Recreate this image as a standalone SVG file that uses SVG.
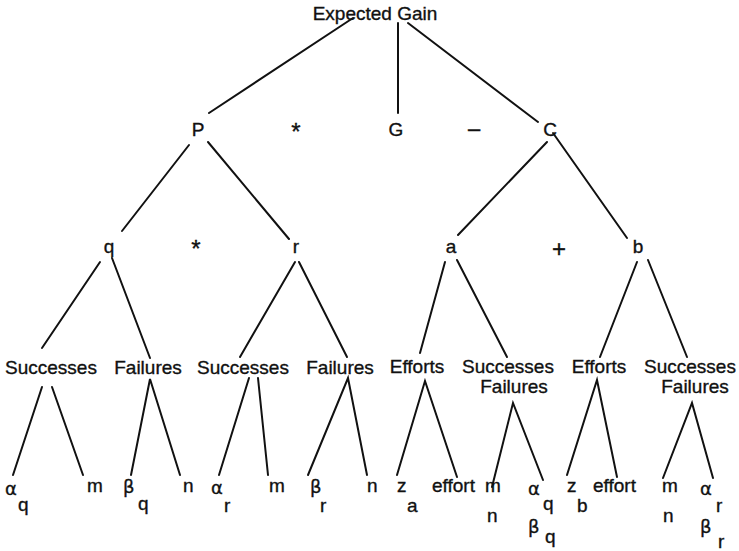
<svg xmlns="http://www.w3.org/2000/svg" width="739" height="551" viewBox="0 0 739 551">
  <style>
    text { font-family: "Liberation Sans", Arial, sans-serif; font-size: 19px; fill: #111; stroke: #111; stroke-width: 0.35; }
    .c { text-anchor: middle; }
    .sym { font-family: "DejaVu Sans", "Liberation Sans", sans-serif; font-size: 18px; }
    .op { font-size: 24px; }
    .edge { stroke: #111; stroke-width: 2; fill: none; stroke-linecap: round; }
  </style>
  <rect width="739" height="551" fill="#fff"/>

  <!-- connectors -->
  <g id="connectors" class="edge">
    <line x1="353" y1="18" x2="209" y2="113"/>
    <line x1="398" y1="23" x2="398" y2="113"/>
    <line x1="408" y1="23" x2="538" y2="122"/>

    <line x1="189" y1="145" x2="122" y2="231"/>
    <line x1="208" y1="142" x2="289" y2="239"/>
    <line x1="547" y1="142" x2="458" y2="235"/>
    <line x1="553" y1="133" x2="627" y2="238"/>

    <line x1="100" y1="262" x2="42" y2="348"/>
    <line x1="112" y1="258" x2="150" y2="358"/>
    <line x1="295" y1="262" x2="240" y2="357"/>
    <line x1="299" y1="262" x2="347" y2="357"/>
    <line x1="445" y1="262" x2="420" y2="353"/>
    <line x1="457" y1="260" x2="507" y2="357"/>
    <line x1="637" y1="262" x2="600" y2="357"/>
    <line x1="648" y1="260" x2="687" y2="357"/>

    <line x1="42" y1="387" x2="13" y2="475"/>
    <line x1="52" y1="387" x2="83" y2="475"/>
    <polyline points="131,475 150,379 180,475"/>
    <line x1="249" y1="378" x2="219" y2="475"/>
    <line x1="258" y1="378" x2="268" y2="475"/>
    <polyline points="308,475 348,378 367,475"/>
    <polyline points="397,475 425,381 457,477"/>
    <polyline points="492,487 513,403 543,480"/>
    <polyline points="567,475 597,380 617,477"/>
    <polyline points="663,478 692,403 713,478"/>
  </g>

  <!-- root -->
  <g id="expected-gain"><text class="c" x="375" y="20">Expected Gain</text></g>

  <!-- level 1 -->
  <g id="P"><text class="c" x="198" y="136">P</text></g>
  <g id="G"><text class="c" x="396" y="136">G</text></g>
  <g id="C"><text class="c" x="550" y="136">C</text></g>

  <!-- level 2 -->
  <g id="q"><text class="c" x="109" y="253">q</text></g>
  <g id="r"><text class="c" x="296" y="253">r</text></g>
  <g id="a"><text class="c" x="451" y="253">a</text></g>
  <g id="b"><text class="c" x="638" y="253">b</text></g>

  <!-- operators between siblings -->
  <g id="operators">
    <text class="c op" x="296" y="140">*</text>
    <text class="c" x="474" y="136" style="font-size:22px">–</text>
    <text class="c op" x="196" y="257">*</text>
    <text class="c op" x="559" y="257">+</text>
  </g>

  <!-- level 3 -->
  <g id="q-successes"><text class="c" x="51" y="374">Successes</text></g>
  <g id="q-failures"><text class="c" x="148" y="374">Failures</text></g>
  <g id="r-successes"><text class="c" x="243" y="374">Successes</text></g>
  <g id="r-failures"><text class="c" x="340" y="374">Failures</text></g>
  <g id="a-efforts"><text class="c" x="417" y="373">Efforts</text></g>
  <g id="a-outcomes">
    <text class="c" x="508" y="373">Successes</text>
    <text class="c" x="514" y="393">Failures</text>
  </g>
  <g id="b-efforts"><text class="c" x="599" y="373">Efforts</text></g>
  <g id="b-outcomes">
    <text class="c" x="690" y="373">Successes</text>
    <text class="c" x="695" y="393">Failures</text>
  </g>

  <!-- leaves -->
  <g id="alpha-q"><text class="sym" x="5" y="495">α</text><text x="18" y="511">q</text></g>
  <g id="m-q"><text x="87" y="492">m</text></g>
  <g id="beta-q"><text class="sym" x="123" y="493">β</text><text x="138" y="510">q</text></g>
  <g id="n-q"><text x="183" y="492">n</text></g>
  <g id="alpha-r"><text class="sym" x="211" y="494">α</text><text x="224" y="512">r</text></g>
  <g id="m-r"><text x="269" y="492">m</text></g>
  <g id="beta-r"><text class="sym" x="310" y="493">β</text><text x="320" y="512">r</text></g>
  <g id="n-r"><text x="367" y="492">n</text></g>

  <g id="z-a"><text x="397" y="492">z</text><text x="407" y="512">a</text></g>
  <g id="effort-a"><text x="432" y="492">effort</text></g>
  <g id="mn-a"><text x="485" y="492">m</text><text x="487" y="522">n</text></g>
  <g id="ab-q">
    <text class="sym" x="528" y="495">α</text><text x="543" y="510">q</text>
    <text class="sym" x="528" y="533">β</text><text x="545" y="543">q</text>
  </g>
  <g id="z-b"><text x="567" y="492">z</text><text x="577" y="512">b</text></g>
  <g id="effort-b"><text x="593" y="492">effort</text></g>
  <g id="mn-b"><text x="662" y="492">m</text><text x="663" y="522">n</text></g>
  <g id="ab-r">
    <text class="sym" x="700" y="495">α</text><text x="716" y="512">r</text>
    <text class="sym" x="700" y="533">β</text><text x="718" y="548">r</text>
  </g>
</svg>
